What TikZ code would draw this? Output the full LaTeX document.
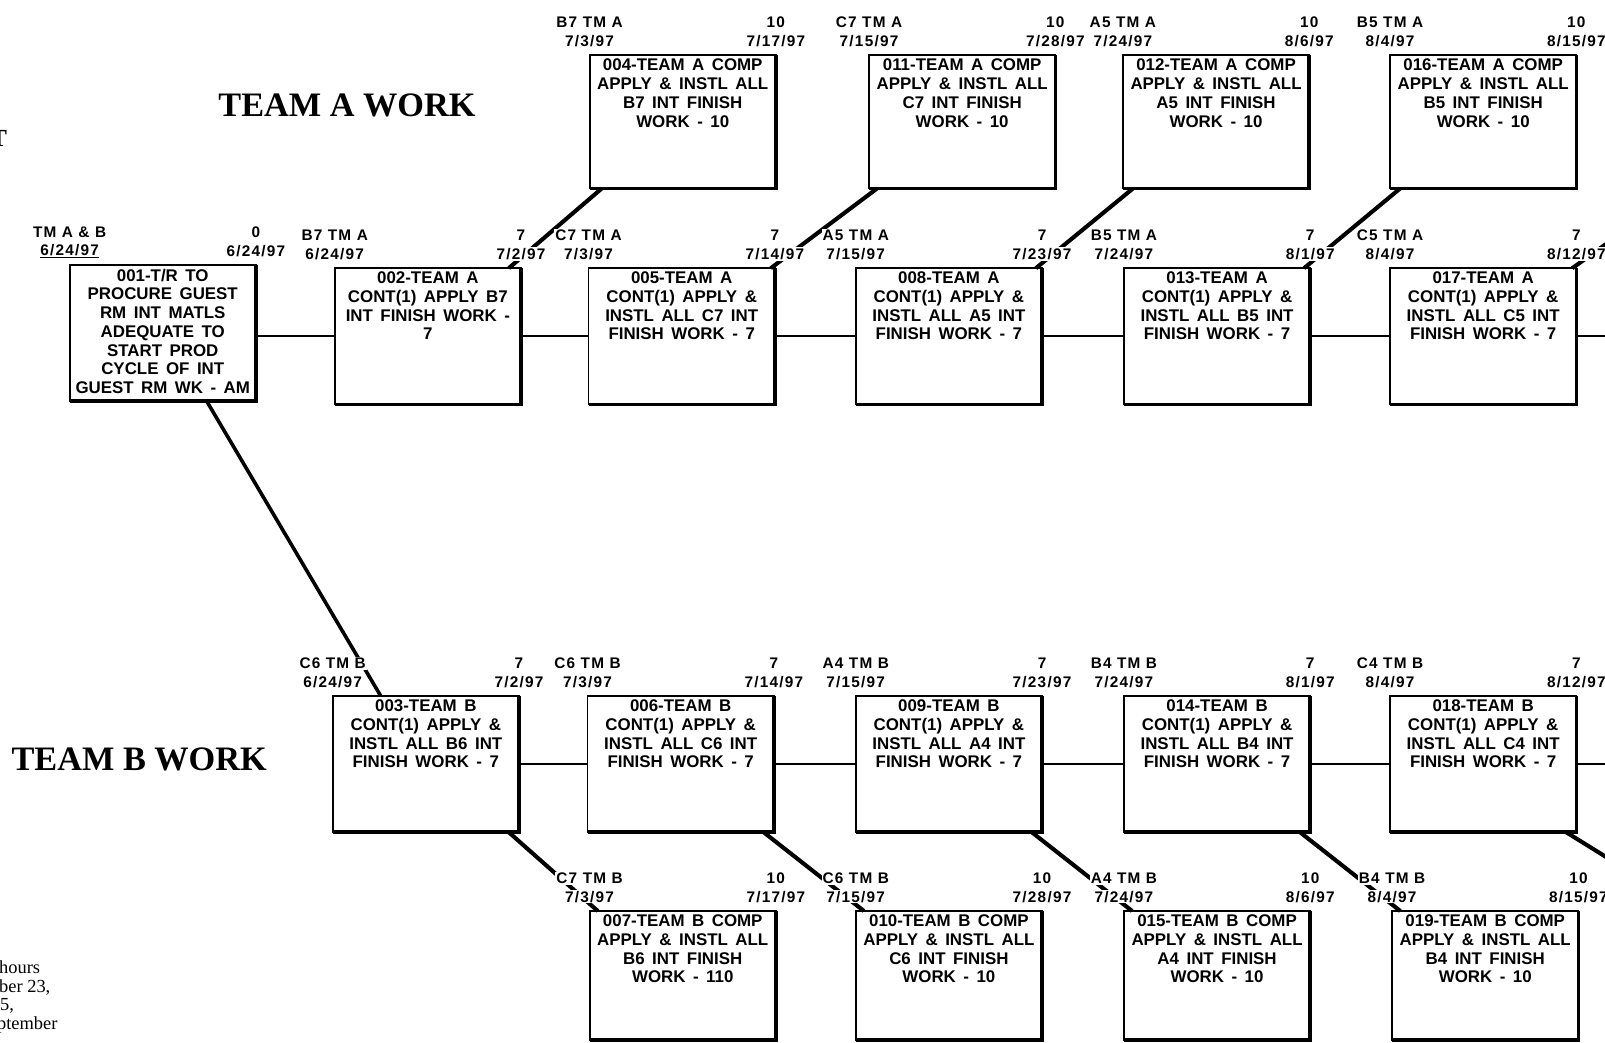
\documentclass[tikz,border=0pt]{standalone}
\usepackage{fontspec}
\setmainfont{Liberation Serif}
\newfontfamily\boxfont[WordSpace=1.6]{Liberation Sans}
\newfontfamily\labfont[LetterSpace=8]{Liberation Sans}
\pgfdeclarelayer{back}
\pgfdeclarelayer{bg}
\pgfsetlayers{back,bg,main}
\tikzset{
  actbox/.style={draw, line width=1.8pt, line join=miter, minimum width=182pt, anchor=north west, inner sep=0pt, outer sep=0pt},
  boxtxt/.style={font=\boxfont\bfseries\fontsize{16.5}{18.3}\selectfont, align=center, inner sep=0pt, anchor=north},
  lab/.style={font=\labfont\bfseries\fontsize{15}{15}\selectfont, fill=white, inner sep=1pt},
  titletxt/.style={font=\bfseries\fontsize{33.5}{34}\selectfont, inner sep=0pt},
  fragtxt/.style={font=\fontsize{18}{18}\selectfont, inner sep=0pt, anchor=base west},
  link/.style={line width=2.2pt},
  diag/.style={line width=4pt},
  heavy/.style={line width=3.5pt, line join=miter}
}
% #1 name, #2 x, #3 y, #4 height, #5 text, #6 #7 left labels, #8 #9 right labels
\newcommand{\actnode}[9]{%
  \node[actbox, minimum height=#4pt] (#1) at (#2,#3) {};
  \draw[heavy] (#1.north east) -- (#1.south east) -- (#1.south west);
  \node[boxtxt] (#1t) at ([yshift=-3.5pt]#1.north) {#5};
  \node[lab] (#1la) at ([yshift=32pt]#1.north west) {#6};
  \node[lab] (#1lb) at ([yshift=14pt]#1.north west) {#7};
  \node[lab] (#1ra) at ([yshift=32pt]#1.north east) {#8};
  \node[lab] (#1rb) at ([yshift=14pt]#1.north east) {#9};
}
\begin{document}
\begin{tikzpicture}[x=1pt,y=-1pt]
\useasboundingbox (0,0) rectangle (1568,1018);
\begin{pgfonlayer}{back}
  \fill[white] (0,0) rectangle (1568,1018);
\end{pgfonlayer}

% titles and cut-off fragments
\node[titletxt] (titleA) at (339,103) {TEAM A WORK};
\node[titletxt] (titleB) at (136,742) {TEAM B WORK};
\node[font=\bfseries\fontsize{24}{24}\selectfont, inner sep=0pt, anchor=base east] (fragT) at (7,143) {T};
\node[fragtxt] (frag1) at (-1,951) {hours};
\node[fragtxt] (frag2) at (-1,970) {ber 23,};
\node[fragtxt] (frag3) at (0,987) {5,};
\node[fragtxt] (frag4) at (-3,1006) {ptember};

% top row: Team A completion boxes
\actnode{n004}{576}{54}{130}{004-TEAM A COMP\\APPLY \& INSTL ALL\\B7 INT FINISH\\WORK - 10}{B7 TM A}{7/3/97}{10}{7/17/97}
\actnode{n011}{849}{54}{130}{011-TEAM A COMP\\APPLY \& INSTL ALL\\C7 INT FINISH\\WORK - 10}{C7 TM A}{7/15/97}{10}{7/28/97}
\actnode{n012}{1097}{54}{130}{012-TEAM A COMP\\APPLY \& INSTL ALL\\A5 INT FINISH\\WORK - 10}{A5 TM A}{7/24/97}{10}{8/6/97}
\actnode{n016}{1358}{54}{130}{016-TEAM A COMP\\APPLY \& INSTL ALL\\B5 INT FINISH\\WORK - 10}{B5 TM A}{8/4/97}{10}{8/15/97}

% Team A main row
\actnode{n001}{68}{259}{133}{001-T/R TO\\PROCURE GUEST\\RM INT MATLS\\ADEQUATE TO\\START PROD\\CYCLE OF INT\\GUEST RM WK - AM}{TM A \& B}{\underline{6/24/97}}{0}{6/24/97}
\actnode{n002}{327}{262}{133}{002-TEAM A\\CONT(1) APPLY B7\\INT FINISH WORK -\\7}{B7 TM A}{6/24/97}{7}{7/2/97}
\actnode{n005}{575}{262}{133}{005-TEAM A\\CONT(1) APPLY \&\\INSTL ALL C7 INT\\FINISH WORK - 7}{C7 TM A}{7/3/97}{7}{7/14/97}
\actnode{n008}{836}{262}{133}{008-TEAM A\\CONT(1) APPLY \&\\INSTL ALL A5 INT\\FINISH WORK - 7}{A5 TM A}{7/15/97}{7}{7/23/97}
\actnode{n013}{1098}{262}{133}{013-TEAM A\\CONT(1) APPLY \&\\INSTL ALL B5 INT\\FINISH WORK - 7}{B5 TM A}{7/24/97}{7}{8/1/97}
\actnode{n017}{1358}{262}{133}{017-TEAM A\\CONT(1) APPLY \&\\INSTL ALL C5 INT\\FINISH WORK - 7}{C5 TM A}{8/4/97}{7}{8/12/97}

% Team B main row
\actnode{n003}{325}{680}{133}{003-TEAM B\\CONT(1) APPLY \&\\INSTL ALL B6 INT\\FINISH WORK - 7}{C6 TM B}{6/24/97}{7}{7/2/97}
\actnode{n006}{574}{680}{133}{006-TEAM B\\CONT(1) APPLY \&\\INSTL ALL C6 INT\\FINISH WORK - 7}{C6 TM B}{7/3/97}{7}{7/14/97}
\actnode{n009}{836}{680}{133}{009-TEAM B\\CONT(1) APPLY \&\\INSTL ALL A4 INT\\FINISH WORK - 7}{A4 TM B}{7/15/97}{7}{7/23/97}
\actnode{n014}{1098}{680}{133}{014-TEAM B\\CONT(1) APPLY \&\\INSTL ALL B4 INT\\FINISH WORK - 7}{B4 TM B}{7/24/97}{7}{8/1/97}
\actnode{n018}{1358}{680}{133}{018-TEAM B\\CONT(1) APPLY \&\\INSTL ALL C4 INT\\FINISH WORK - 7}{C4 TM B}{8/4/97}{7}{8/12/97}

% bottom row: Team B completion boxes
\actnode{n007}{576}{890}{126}{007-TEAM B COMP\\APPLY \& INSTL ALL\\B6 INT FINISH\\WORK - 110}{C7 TM B}{7/3/97}{10}{7/17/97}
\actnode{n010}{836}{890}{126}{010-TEAM B COMP\\APPLY \& INSTL ALL\\C6 INT FINISH\\WORK - 10}{C6 TM B}{7/15/97}{10}{7/28/97}
\actnode{n015}{1098}{890}{126}{015-TEAM B COMP\\APPLY \& INSTL ALL\\A4 INT FINISH\\WORK - 10}{A4 TM B}{7/24/97}{10}{8/6/97}
\actnode{n019}{1360}{890}{126}{019-TEAM B COMP\\APPLY \& INSTL ALL\\B4 INT FINISH\\WORK - 10}{B4 TM B}{8/4/97}{10}{8/15/97}

% off-page ends
\coordinate (offA) at (1620,202);
\coordinate (offArow) at (1620,328);
\coordinate (offBrow) at (1620,746);
\coordinate (offB) at (1630,875);

\begin{pgfonlayer}{bg}
  % horizontal links
  \draw[link] (n001.east |- n002.west) -- (n002.west);
  \draw[link] (n002.east) -- (n005.west);
  \draw[link] (n005.east) -- (n008.west);
  \draw[link] (n008.east) -- (n013.west);
  \draw[link] (n013.east) -- (n017.west);
  \draw[link] (n017.east) -- (n017.east -| offArow);
  \draw[link] (n003.east) -- (n006.west);
  \draw[link] (n006.east) -- (n009.west);
  \draw[link] (n009.east) -- (n014.west);
  \draw[link] (n014.east) -- (n018.west);
  \draw[link] (n018.east) -- (n018.east -| offBrow);
  % diagonal links up to completion boxes
  \draw[diag] ([xshift=-12pt]n002.north east) -- ([xshift=12pt]n004.south west);
  \draw[diag] ([xshift=-4pt]n005.north east) -- ([xshift=8pt]n011.south west);
  \draw[diag] ([xshift=-6pt]n008.north east) -- ([xshift=10pt]n012.south west);
  \draw[diag] ([xshift=-6pt]n013.north east) -- ([xshift=10pt]n016.south west);
  \draw[diag] ([xshift=-4pt]n017.north east) -- (offA);
  % start to team B
  \draw[line width=3.5pt] ([xshift=134pt]n001.south west) -- ([xshift=47pt]n003.north west);
  % diagonal links down to completion boxes
  \draw[diag] ([xshift=-10pt]n003.south east) -- ([xshift=8pt]n007.north west);
  \draw[diag] ([xshift=-10pt]n006.south east) -- ([xshift=8pt]n010.north west);
  \draw[diag] ([xshift=-10pt]n009.south east) -- ([xshift=8pt]n015.north west);
  \draw[diag] ([xshift=-10pt]n014.south east) -- ([xshift=8pt]n019.north west);
  \draw[diag] ([xshift=-10pt]n018.south east) -- (offB);
\end{pgfonlayer}
\end{tikzpicture}
\end{document}
